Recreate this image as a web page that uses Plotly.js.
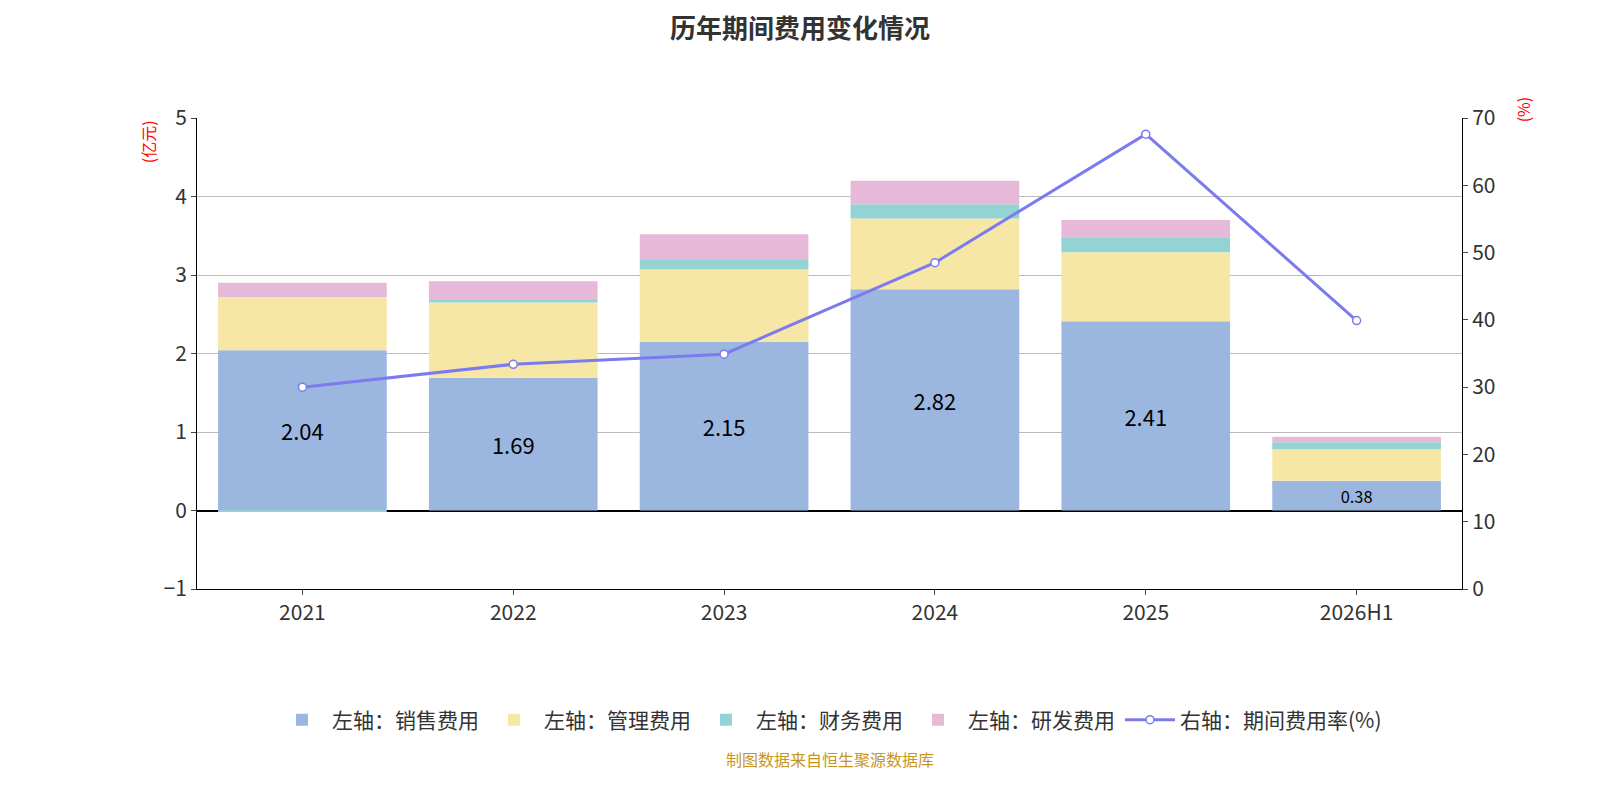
<!DOCTYPE html><html><head><meta charset="utf-8"><script src="https://cdn.plot.ly/plotly-3.0.1.min.js"></script></head><body style="margin:0"><div id="c" style="width:1600px;height:800px"></div><script>
const years=['2021','2022','2023','2024','2025','2026H1'];
const sales=[2.04,1.69,2.15,2.82,2.41,0.38];
const mgmt=[0.68,0.96,0.92,0.90,0.88,0.40];
const fin=[-0.02,0.03,0.12,0.18,0.18,0.09];
const rd=[0.18,0.24,0.33,0.30,0.23,0.07];
const rate=[30.0,33.4,34.9,48.5,67.6,39.9];
const f="'Noto Sans CJK SC','Noto Sans',sans-serif";
const bar=(n,y,c,t)=>({type:'bar',name:n,x:years,y:y,marker:{color:c},width:0.8,
 text:t?y.map(v=>v.toFixed(2)):undefined,textposition:t?'inside':'none',insidetextanchor:'middle',
 textfont:{size:22,color:'#000'},hoverinfo:'y'});
const data=[bar('左轴：销售费用',sales,'#9bb7e0',true),bar('左轴：管理费用',mgmt,'#f7e7a6'),
 bar('左轴：财务费用',fin,'#93d3d3'),bar('左轴：研发费用',rd,'#e7b9d9'),
 {type:'scatter',mode:'lines+markers',name:'右轴：期间费用率(%)',x:years,y:rate,yaxis:'y2',
  line:{color:'#7b7bef',width:3},marker:{size:8,color:'#fff',line:{color:'#7b7bef',width:1.5}}}];
const layout={barmode:'relative',font:{family:f,size:20,color:'#333'},
 title:{text:'<b>历年期间费用变化情况</b>',x:0.5,y:0.975,font:{size:26,color:'#333'}},
 margin:{l:197,r:138,t:118,b:211,autoexpand:false},plot_bgcolor:'#fff',
 xaxis:{type:'category',showline:true,linecolor:'#000',ticks:'outside',showgrid:false,tickfont:{size:21}},
 yaxis:{range:[-1,5],dtick:1,showgrid:true,gridcolor:'#bbb',showline:true,linecolor:'#000',ticks:'outside',
  zeroline:true,zerolinecolor:'#000',zerolinewidth:1.5,tickfont:{size:21}},
 yaxis2:{overlaying:'y',side:'right',range:[0,70],dtick:10,showgrid:false,showline:true,linecolor:'#000',ticks:'outside',zeroline:false,tickfont:{size:21}},
 legend:{orientation:'h',x:0.5,xanchor:'center',yref:'container',y:0.1,yanchor:'middle',font:{size:21},itemwidth:50},
 annotations:[{text:'(亿元)',xref:'paper',yref:'paper',x:-0.05,y:1,textangle:-90,showarrow:false,font:{color:'red',size:16},yanchor:'top'},
  {text:'(%)',xref:'paper',yref:'paper',x:1.06,y:1.05,textangle:-90,showarrow:false,font:{color:'red',size:16}},
  {text:'制图数据来自恒生聚源数据库',xref:'paper',yref:'paper',x:0.5,y:-0.39,showarrow:false,font:{color:'#c8961e',size:16}}]};
Plotly.newPlot('c',data,layout,{displayModeBar:false});
</script></body></html>
